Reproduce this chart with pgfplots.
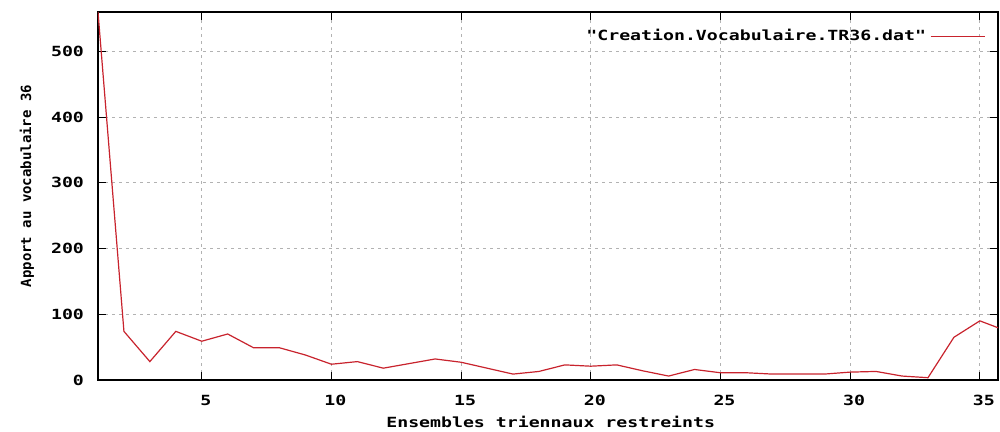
\documentclass[border=0pt]{standalone}
\usepackage{fontspec}
\setmonofont[FakeStretch=1.3]{DejaVu Sans Mono}
\newfontfamily\gpnarrow{DejaVu Sans Mono}
\usepackage{pgfplots}
\pgfplotsset{compat=1.18}

\definecolor{gpred}{RGB}{200,35,45}
\newcommand{\gpfont}{\fontsize{7}{8}\selectfont\ttfamily\bfseries}

\begin{document}
\begin{tikzpicture}
\useasboundingbox (-49pt,-26pt) rectangle (451pt,190pt);
\begin{axis}[
    scale only axis,
    width=450pt, height=184pt,
    xmin=1, xmax=35.7,
    ymin=0, ymax=560,
    xtick={5,10,...,35},
    ytick={0,100,...,500},
    tick align=inside,
    major tick length=4pt,
    grid=major,
    major grid style={gray!60, dash pattern=on 1.5pt off 2pt, line width=0.4pt},
    axis line style={black, line width=0.6pt},
    tick style={black, line width=0.5pt},
    /pgf/number format/assume math mode=true,
    ticklabel style={font=\gpfont},
    xticklabel style={yshift=-4pt, xshift=2pt},
    yticklabel style={xshift=-3.5pt},
    every axis x label/.style={at={(axis description cs:0.503,0)}, yshift=-21pt, anchor=center, font=\gpfont},
    every axis y label/.style={at={(axis description cs:0,0.527)}, xshift=-35.5pt, rotate=90, anchor=center,
        font=\fontsize{7}{8}\selectfont\gpnarrow\bfseries},
    xlabel={Ensembles triennaux restreints},
    ylabel={Apport au vocabulaire 36},
    legend plot pos=right,
    legend style={at={(0.993,0.975)}, anchor=north east, draw=none, fill=none, font=\gpfont},
    legend image code/.code={\draw[#1] (0pt,0pt) -- (27pt,0pt);},
]
\addplot[gpred, line width=0.6pt] coordinates {
    (1,560) (2,74) (3,28) (4,74) (5,59) (6,70) (7,49) (8,49) (9,38) (10,24)
    (11,28) (12,18) (13,25) (14,32) (15,27) (16,18) (17,9) (18,13) (19,23) (20,21)
    (21,23) (22,14) (23,6) (24,16) (25,11) (26,11) (27,9) (28,9) (29,9) (30,12)
    (31,13) (32,6) (33,3.5) (34,65) (35,90) (36,75)
};
\addlegendentry{"Creation.Vocabulaire.TR36.dat"}
\end{axis}
\end{tikzpicture}
\end{document}
